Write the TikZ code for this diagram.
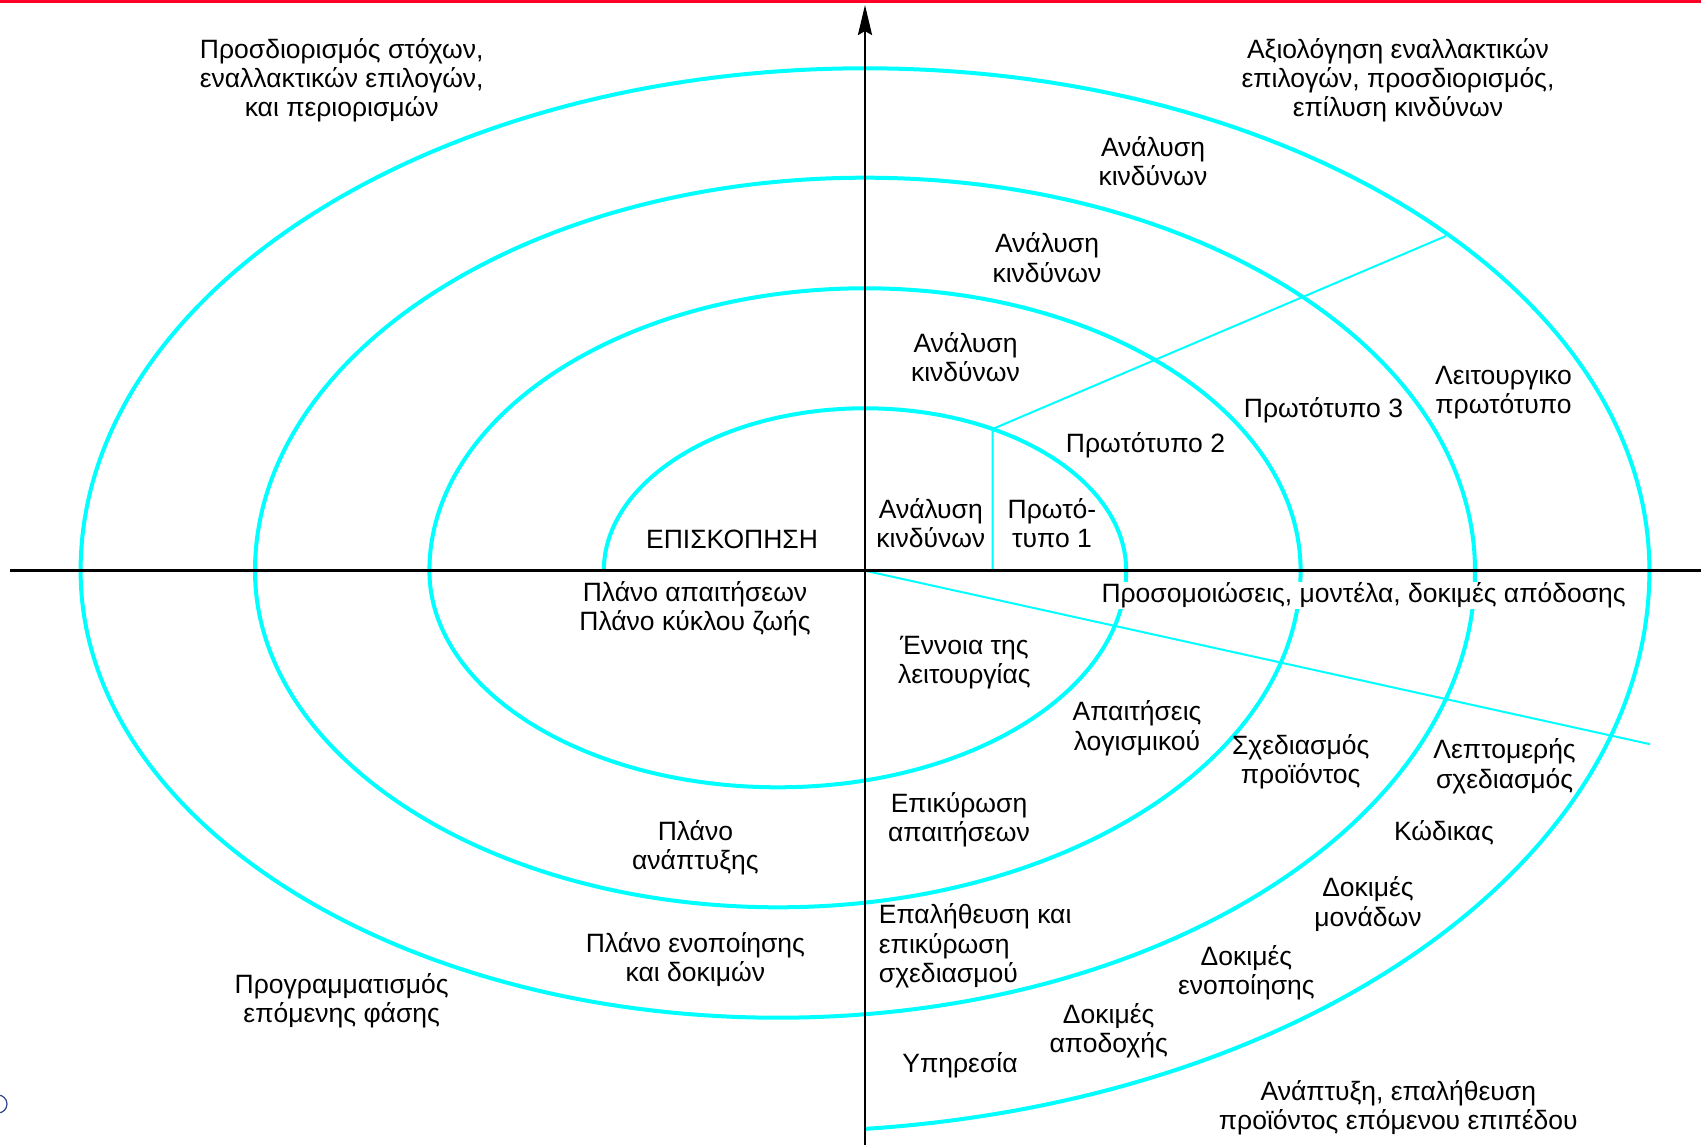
\documentclass[tikz,border=0pt]{standalone}
\usepackage{fontspec}
\setmainfont{Liberation Sans}
\usetikzlibrary{arrows.meta}
\definecolor{spiralcyan}{RGB}{0,255,255}
\definecolor{topred}{RGB}{255,0,40}
\definecolor{markblue}{RGB}{50,70,140}
\begin{document}
\begin{tikzpicture}[x=1pt,y=1pt,
  spiral/.style={draw=spiralcyan, line width=4pt},
  thinline/.style={draw=spiralcyan, line width=2pt},
  axisline/.style={draw=black, line width=2.8pt},
  lbl/.style={font=\fontsize{26.5}{29.3}\selectfont, align=center, inner sep=0pt, text=black},
  lbll/.style={font=\fontsize{26.5}{29.3}\selectfont, align=left, inner sep=0pt, text=black},
]
\useasboundingbox (0,0) rectangle (1701,-1145);
\fill[topred] (0,0) rectangle (1701,-2.7);
\draw[markblue, line width=1.2pt] (-2,-1104) circle (9);

% spiral
\draw[spiral] (603.8,-570.7)
 arc[start angle=180,end angle=0,x radius=261.2pt,y radius=162.4pt]
 arc[start angle=360,end angle=180,x radius=348.4pt,y radius=216.6pt]
 arc[start angle=180,end angle=0,x radius=435.6pt,y radius=282.4pt]
 arc[start angle=360,end angle=180,x radius=522.8pt,y radius=336.6pt]
 arc[start angle=180,end angle=0,x radius=610pt,y radius=393pt]
 arc[start angle=360,end angle=180,x radius=697.2pt,y radius=447pt]
 arc[start angle=180,end angle=0,x radius=784.4pt,y radius=502.4pt]
 arc[start angle=360,end angle=275.74,x radius=871.6pt,y radius=561pt];

\coordinate (O) at (865,-570.7);
\coordinate (V0) at (992.6,-570.7);
\coordinate (P1) at (992.6,-429);
\coordinate (P2) at (1446,-236);
\coordinate (P3) at (1650,-744.2);
\draw[thinline] (V0) -- (P1) -- (P2);
\draw[thinline] (O) -- (P3);

% labels
\node[lbl] (t1) at (341.7,-80.3) {Προσδιορισμός στόχων,\\εναλλακτικών επιλογών,\\και περιορισμών};
\node[lbl] (t2) at (1398,-80.3) {Αξιολόγηση εναλλακτικών\\επιλογών, προσδιορισμός,\\επίλυση κινδύνων};
\node[lbl] (t3) at (1153,-161) {Ανάλυση\\κινδύνων};
\node[lbl] (t4) at (1047,-257.6) {Ανάλυση\\κινδύνων};
\node[lbl] (t5) at (965.5,-357.4) {Ανάλυση\\κινδύνων};
\node[lbl] (t6) at (930.8,-523.4) {Ανάλυση\\κινδύνων};
\node[lbl] (t7) at (1052,-523.4) {Πρωτό-\\τυπο 1};
\node[lbl] (t8) at (1145.5,-444.8) {Πρωτότυπο 2};
\node[lbl] (t9) at (1323.5,-410) {Πρωτότυπο 3};
\node[lbl] (t10) at (1503.5,-392.7) {Λειτουργικο\\πρωτότυπο};
\node[lbl] (t11) at (732,-539) {ΕΠΙΣΚΟΠΗΣΗ};
\node[lbl] (t12) at (695,-609) {Πλάνο απαιτήσεων\\Πλάνο κύκλου ζωής};
\node[lbl, fill=white, inner sep=1pt] (t13) at (1363.6,-595.6) {Προσομοιώσεις, μοντέλα, δοκιμές απόδοσης};
\node[lbl] (t14) at (964.4,-662.3) {Έννοια της\\λειτουργίας};
\node[lbl] (t15) at (1137,-728.4) {Απαιτήσεις\\λογισμικού};
\node[lbl] (t16) at (1300.7,-761.5) {Σχεδιασμός\\προϊόντος};
\node[lbl] (t17) at (1504.6,-766.4) {Λεπτομερής\\σχεδιασμός};
\node[lbl] (t18) at (959,-819.6) {Επικύρωση\\απαιτήσεων};
\node[lbl] (t19) at (695.4,-847.8) {Πλάνο\\ανάπτυξης};
\node[lbl] (t20) at (1443.9,-833.1) {Κώδικας};
\node[lbl] (t21) at (1368,-904.2) {Δοκιμές\\μονάδων};
\node[lbll, anchor=west] (t22) at (878.7,-946) {Επαλήθευση και\\επικύρωση\\σχεδιασμού};
\node[lbl] (t23) at (695.4,-959.5) {Πλάνο ενοποίησης\\και δοκιμών};
\node[lbl] (t24) at (341.7,-1000.7) {Προγραμματισμός\\επόμενης φάσης};
\node[lbl] (t25) at (1246.4,-972.5) {Δοκιμές\\ενοποίησης};
\node[lbl] (t26) at (1108.7,-1031.1) {Δοκιμές\\αποδοχής};
\node[lbl] (t27) at (960,-1065.3) {Υπηρεσία};
\node[lbl] (t28) at (1398.3,-1108.1) {Ανάπτυξη, επαλήθευση\\προϊόντος επόμενου επιπέδου};

% axes
\coordinate (AL) at (10,-570.7);
\coordinate (AR) at (1701,-570.7);
\coordinate (AB) at (865,-1145);
\coordinate (AT) at (865,-5);
\draw[axisline] (AL) -- (AR);
\draw[axisline,-{Stealth[length=30pt,width=14pt,inset=4pt]}] (AB) -- (AT);
\end{tikzpicture}
\end{document}
